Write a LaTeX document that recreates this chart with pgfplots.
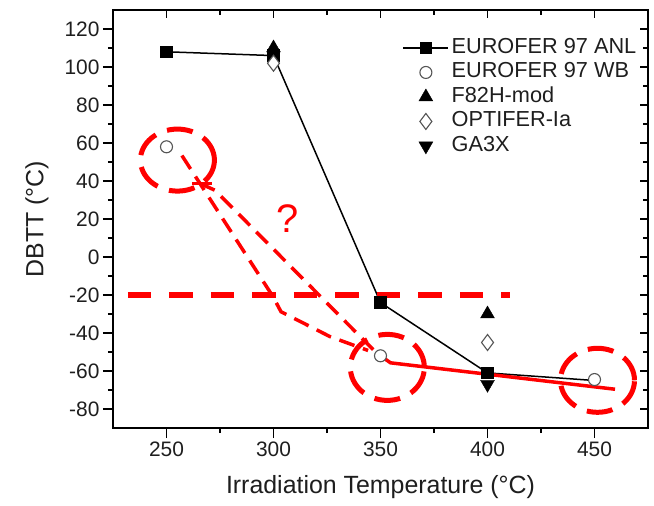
\documentclass[border=0pt]{standalone}
\usepackage{fontspec}
\setmainfont{Liberation Sans}
\usepackage{pgfplots}
\pgfplotsset{compat=1.18}
\definecolor{rd}{RGB}{255,0,0}
\definecolor{txt}{RGB}{30,30,30}
\definecolor{mk}{RGB}{85,85,85}
\begin{document}
\begin{tikzpicture}
\pgfplotsset{
  base/.style={
    scale only axis, width=535bp, height=418bp,
    xmin=225, xmax=475, ymin=-90, ymax=130,
    xtick={250,300,...,450}, ytick={-80,-60,...,120},
    minor x tick num=1, minor y tick num=1,
    axis line style={line width=2.4bp, black},
    major tick length=10bp, minor tick length=5bp,
    tick style={line width=1.8bp, black},
  },
  lg/.style={legend image code/.code={\draw[##1, mark indices={2}] plot coordinates {(0bp,0bp) (22.5bp,0bp) (45bp,0bp)};}},
}
\begin{axis}[base, xtick pos=bottom, ytick pos=left, tick align=outside,
  xlabel={Irradiation Temperature (°C)}, ylabel={DBTT (°C)},
  label style={font=\fontsize{25}{30}\selectfont, text=txt},
  ticklabel style={font=\fontsize{21}{25}\selectfont, text=txt},
  /pgf/number format/assume math mode=true,
  xlabel style={at={(axis description cs:0.5,-0.106)}, anchor=north},
  ylabel style={at={(axis description cs:-0.114,0.5)}, anchor=south},
  legend cell align=left,
  legend style={at={(rel axis cs:0.541,0.939)}, anchor=north west, draw=none, fill=none,
    inner sep=0bp, row sep=0bp, column sep=0bp, font=\fontsize{21.8}{25}\selectfont, text=txt,
    nodes={inner sep=2.5bp, text height=15bp, text depth=4.5bp}},
  clip=false,
]
\addplot[black, line width=1.5bp, mark=square*, mark size=5.5bp, mark options={solid, fill=black}, mark indices={1,2,3,4}, lg]
  coordinates {(250,108) (300,106) (350,-24) (400,-61) (450,-65)};
\addlegendentry{EUROFER 97 ANL}
\addplot[only marks, mark=*, mark size=6bp, mark options={fill=white, draw=mk, line width=1.1bp}, lg]
  coordinates {(250,58) (350,-52) (450,-64.5)};
\addlegendentry{EUROFER 97 WB}
\addplot[only marks, mark=triangle*, mark size=8bp, mark options={fill=black, draw=black}, lg]
  coordinates {(300,110) (400,-30)};
\addlegendentry{F82H-mod}
\addplot[only marks, mark=diamond*, mark size=8bp, mark options={fill=white, draw=mk, line width=1.1bp}, lg]
  coordinates {(300,102) (400,-45)};
\addlegendentry{OPTIFER-Ia}
\addplot[only marks, mark=triangle*, mark size=8bp, mark options={rotate=180, fill=black, draw=black}, lg]
  coordinates {(400,-67)};
\addlegendentry{GA3X}
% red annotations
\addplot[rd, line width=5.5bp, dash pattern=on 23.5bp off 18bp, forget plot]
  coordinates {(232,-20) (410.5,-20)};
\addplot[rd, line width=3.5bp, dash pattern=on 16bp off 9bp, forget plot]
  coordinates {(257.2,53.4) (299.8,-20.9) (303.5,-28.8) (326.4,-41.9) (344.2,-49.2)};
\addplot[rd, line width=3.5bp, dash pattern=on 16bp off 9bp, forget plot]
  coordinates {(265.7,38.7) (272.7,35.1) (349.8,-52.4)};
\addplot[rd, line width=3.5bp, forget plot]
  coordinates {(261.9,38.7) (271.3,38.7)};
\addplot[rd, line width=3.5bp, forget plot]
  coordinates {(350,-52) (354.7,-55.7) (459.6,-69.6)};
\draw[rd, line width=5bp, dash pattern=on 26bp off 12bp] (axis cs:255.1,51) ellipse [x radius=37bp, y radius=31bp];
\draw[rd, line width=5bp, dash pattern=on 26bp off 12bp] (axis cs:353.2,-58.1) ellipse [x radius=37bp, y radius=33bp];
\draw[rd, line width=5bp, dash pattern=on 26bp off 12bp] (axis cs:451.4,-64.9) ellipse [x radius=37bp, y radius=32bp];
\node[text=rd, font=\fontsize{40}{48}\selectfont] at (axis cs:306.8,20.4) {?};
\end{axis}
\begin{axis}[base, xtick pos=top, ytick pos=right, tick align=inside, major tick length=8bp,
  xticklabels={}, yticklabels={}]
\end{axis}
\pgfresetboundingbox
\path (current axis.south west) ++(-113bp,-78bp) rectangle ([shift={(6bp,10bp)}]current axis.north east);
\end{tikzpicture}
\end{document}
